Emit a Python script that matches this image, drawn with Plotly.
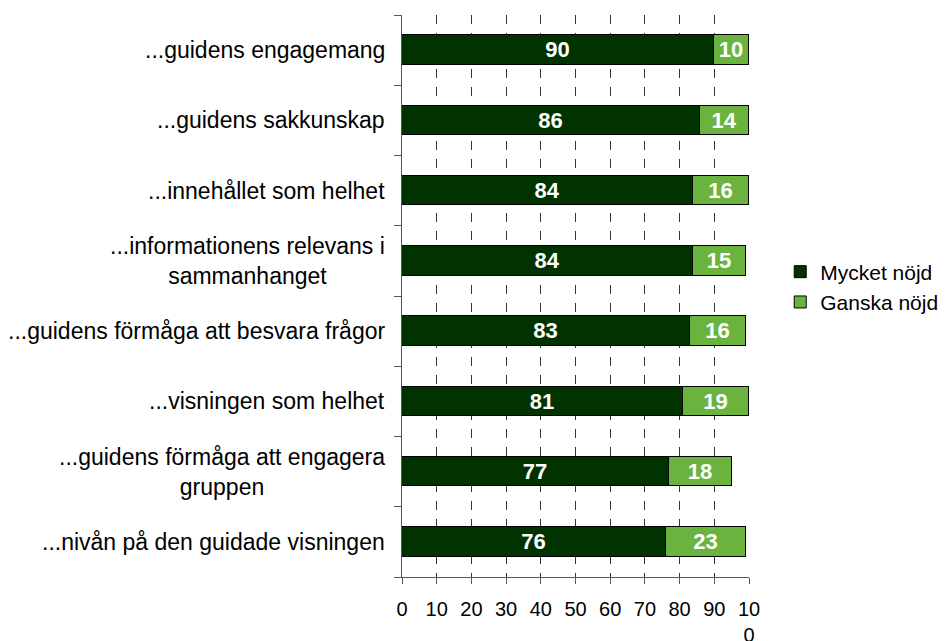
import plotly.graph_objects as go

categories = [
    "...guidens engagemang",
    "...guidens sakkunskap",
    "...innehållet som helhet",
    "...informationens relevans i<br>sammanhanget",
    "...guidens förmåga att besvara frågor",
    "...visningen som helhet",
    "...guidens förmåga att engagera<br>gruppen",
    "...nivån på den guidade visningen",
]
mycket_nojd = [90, 86, 84, 84, 83, 81, 77, 76]
ganska_nojd = [10, 14, 16, 15, 16, 19, 18, 23]
x_tick_vals = [0, 10, 20, 30, 40, 50, 60, 70, 80, 90, 100]
x_tick_text = ["0", "10", "20", "30", "40", "50", "60", "70", "80", "90", "10<br>0"]

DARK = "#003300"
LIGHT = "#6BB33F"
FONT = "Liberation Sans, Arial, sans-serif"
FS_CAT = 23
FS_BAR = 22
FS_TICK = 20
FS_LEG = 21

pos = list(range(len(categories)))
boundaries = [p - 0.5 for p in pos] + [pos[-1] + 0.5]

fig = go.Figure()
for name, vals, col in [("Mycket nöjd", mycket_nojd, DARK), ("Ganska nöjd", ganska_nojd, LIGHT)]:
    fig.add_trace(go.Bar(
        y=pos, x=vals, name=name, orientation="h", width=0.42,
        marker=dict(color=col, line=dict(color="black", width=1)),
        text=vals, textposition="inside", insidetextanchor="middle", textangle=0,
        textfont=dict(color="white", size=FS_BAR, family=FONT, weight="bold"),
        constraintext="none", cliponaxis=False,
    ))

for p, c in zip(pos, categories):
    fig.add_annotation(
        x=0, xref="paper", y=p, yref="y", text=c, showarrow=False,
        xanchor="right", yanchor="middle", align="center", xshift=-15,
        font=dict(size=FS_CAT, family=FONT, color="black"),
    )

# page body has an 8px margin, so the figure is sized 8px smaller
fig.update_layout(
    barmode="stack",
    width=941, height=633,
    margin=dict(l=394, r=200, t=7, b=64, autoexpand=False),
    paper_bgcolor="white", plot_bgcolor="white",
    font=dict(family=FONT, size=FS_TICK, color="black"),
    bargap=0,
    legend=dict(
        x=1.09, xanchor="left", y=0.516, yanchor="middle",
        font=dict(size=FS_LEG, family=FONT, color="black"),
        traceorder="normal", bgcolor="rgba(0,0,0,0)",
    ),
    xaxis=dict(
        range=[0, 100], tickvals=x_tick_vals, ticktext=x_tick_text,
        showgrid=True, gridcolor="#333333", gridwidth=1, griddash="dash",
        showline=True, linecolor="#555555", linewidth=1,
        ticks="outside", ticklen=6, tickcolor="#555555",
        zeroline=False, ticklabelstandoff=8, automargin=False,
        tickfont=dict(size=FS_TICK, family=FONT, color="black"),
    ),
    xaxis2=dict(
        overlaying="x", anchor="y", side="bottom", range=[0, 100],
        tickvals=x_tick_vals, ticks="inside", ticklen=6, tickcolor="#555555",
        showticklabels=False, showgrid=False, showline=False, zeroline=False,
    ),
    yaxis=dict(
        range=[pos[-1] + 0.5, pos[0] - 0.5], tickvals=boundaries,
        showticklabels=False, showgrid=False, zeroline=False, automargin=False,
        showline=True, linecolor="#555555", linewidth=1,
        ticks="outside", ticklen=7, tickcolor="#555555",
    ),
)

fig.write_html("out.html")
